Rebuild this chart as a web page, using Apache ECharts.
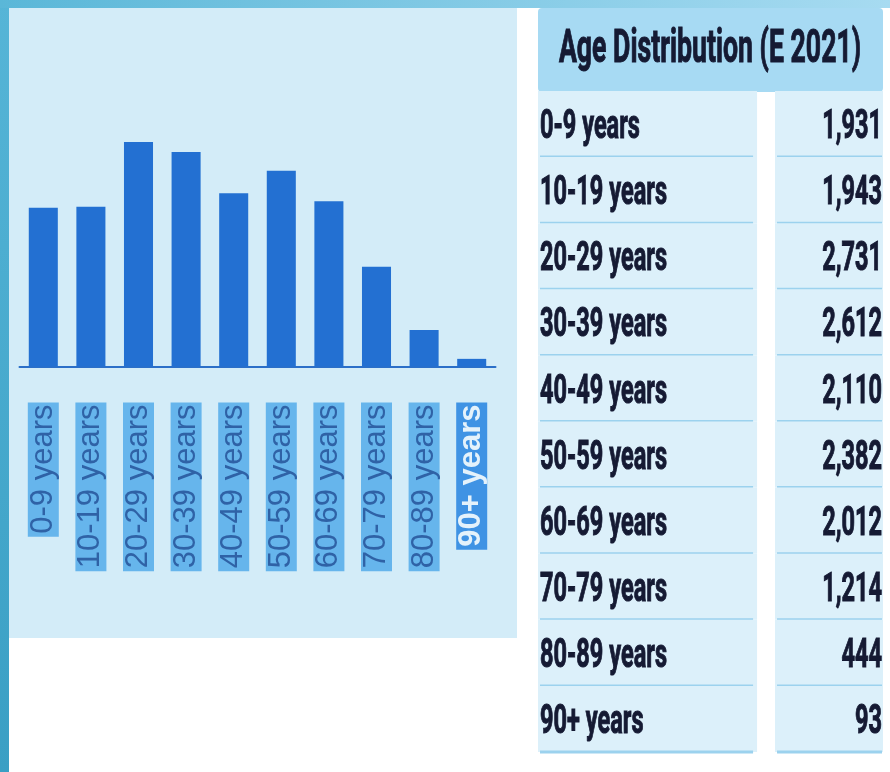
<!DOCTYPE html>
<html>
<head>
<meta charset="utf-8">
<script src="https://cdn.jsdelivr.net/npm/echarts@6/dist/echarts.min.js"></script>
<style>
  html, body { margin: 0; padding: 0; background: #ffffff; }
  #chart { width: 890px; height: 772px; }
</style>
</head>
<body>
<div id="chart"></div>
<script>
// ---- data ----
const ageGroups = ['0-9 years', '10-19 years', '20-29 years', '30-39 years', '40-49 years',
                   '50-59 years', '60-69 years', '70-79 years', '80-89 years', '90+ years'];
const population = [1931, 1943, 2731, 2612, 2110, 2382, 2012, 1214, 444, 93];
const tableTitle = 'Age Distribution (E 2021)';
const yMax = 3000;

// ---- styles ----
const barColor = '#2370d2';
const textDark = '#151a33';
const condense = 0.62;
const stretch = 1.06;

const chart = echarts.init(document.getElementById('chart'), null, { renderer: 'canvas' });

const fmt = v => v.toLocaleString('en-US');

const option = {
  animation: false,
  backgroundColor: '#ffffff',
  graphic: [
    // chart panel background
    { type: 'rect', z: -10, shape: { x: 9, y: 8, width: 508, height: 630 }, style: { fill: '#d3ecf8' }, silent: true },
    // left frame strip
    { type: 'rect', z: -9, shape: { x: 0, y: 0, width: 9, height: 772 },
      style: { fill: new echarts.graphic.LinearGradient(0, 0, 0, 1, [{ offset: 0, color: '#56b5d7' }, { offset: 1, color: '#3a9fc4' }]) }, silent: true },
    // top frame strip
    { type: 'rect', z: -9, shape: { x: 0, y: 0, width: 890, height: 8 },
      style: { fill: new echarts.graphic.LinearGradient(0, 0, 1, 0, [{ offset: 0, color: '#5ab7d8' }, { offset: 1, color: '#a7dbf1' }]) }, silent: true },
    // table header
    { type: 'rect', z: -5, shape: { x: 538, y: 8, width: 345, height: 84, r: 4 }, style: { fill: '#a7daf3' }, silent: true },
    { type: 'text', z: 5, x: 710, y: 51, scaleX: condense, scaleY: stretch,
      style: { text: tableTitle, fontSize: 43, fontWeight: 'bold', fontFamily: 'Roboto',
               fill: textDark, stroke: textDark, lineWidth: 1, align: 'center', verticalAlign: 'middle' }, silent: true }
  ],
  grid: [
    { left: 19.5, right: 394.5, top: 120, bottom: 405.5 },
    { left: 538, right: 7, top: 91, bottom: 20 }
  ],
  xAxis: [
    {
      type: 'category', gridIndex: 0, data: ageGroups,
      axisLine: { show: true, lineStyle: { color: '#2b6fc8', width: 2 } },
      axisTick: { show: false },
      axisLabel: {
        interval: 0, rotate: 90, margin: 36,
        formatter: (v, i) => (i === ageGroups.length - 1 ? '{h|' + v + '}' : '{n|' + v + '}'),
        rich: {
          n: { fontSize: 31, lineHeight: 22, fontFamily: 'Liberation Sans, Arial, sans-serif',
               color: '#2f62a6', backgroundColor: '#66b5ec', padding: [0, 2, 0, 3] },
          h: { fontSize: 31, lineHeight: 22, fontFamily: 'Liberation Sans, Arial, sans-serif', fontWeight: 'bold',
               color: '#e4f2fb', backgroundColor: '#3f93e4', padding: [0, 2, 0, 3] }
        }
      }
    },
    { type: 'value', gridIndex: 1, min: 0, max: 1, show: false }
  ],
  yAxis: [
    { type: 'value', gridIndex: 0, min: 0, max: yMax, show: false, splitLine: { show: false } },
    { type: 'category', gridIndex: 1, data: ageGroups, inverse: true, show: false }
  ],
  series: [
    {
      type: 'bar', xAxisIndex: 0, yAxisIndex: 0,
      data: population, barWidth: '61%',
      itemStyle: { color: barColor },
      silent: true
    },
    {
      type: 'custom', xAxisIndex: 1, yAxisIndex: 1,
      data: ageGroups.map((g, i) => [0, i, population[i]]),
      encode: { x: 0, y: 1 },
      silent: true,
      renderItem: function (params, api) {
        const row = api.value(1);
        const val = api.value(2);
        const c = api.coord([0, row]);
        const r = api.coord([1, row]);
        const h = api.size([0, 1])[1];
        const x0 = c[0], x1 = r[0], W = x1 - x0;
        const yTop = c[1] - h / 2, yBot = c[1] + h / 2;
        const c1r = x0 + W * 0.635, c2l = x0 + W * 0.687;
        const sep = { stroke: '#9cd2ee', lineWidth: 3 };
        const txt = { fontSize: 38, fontWeight: 'bold', fontFamily: 'Roboto',
                      fill: textDark, stroke: textDark, lineWidth: 1, verticalAlign: 'middle' };
        return {
          type: 'group',
          children: [
            { type: 'rect', shape: { x: x0, y: yTop, width: c1r - x0, height: h }, style: { fill: '#dcf0fa' } },
            { type: 'rect', shape: { x: c2l, y: yTop, width: x1 - c2l, height: h }, style: { fill: '#dcf0fa' } },
            { type: 'line', shape: { x1: x0 + 2, y1: yBot, x2: c1r - 4, y2: yBot }, style: sep },
            { type: 'line', shape: { x1: c2l + 2, y1: yBot, x2: x1 - 1, y2: yBot }, style: sep },
            { type: 'text', x: x0 + 2, y: c[1] + 4, scaleX: condense, scaleY: stretch,
              style: Object.assign({ text: ageGroups[row], align: 'left' }, txt) },
            { type: 'text', x: x1 - 1, y: c[1] + 4, scaleX: condense, scaleY: stretch,
              style: Object.assign({ text: fmt(val), align: 'right' }, txt) }
          ]
        };
      }
    }
  ]
};

chart.setOption(option);
</script>
</body>
</html>
